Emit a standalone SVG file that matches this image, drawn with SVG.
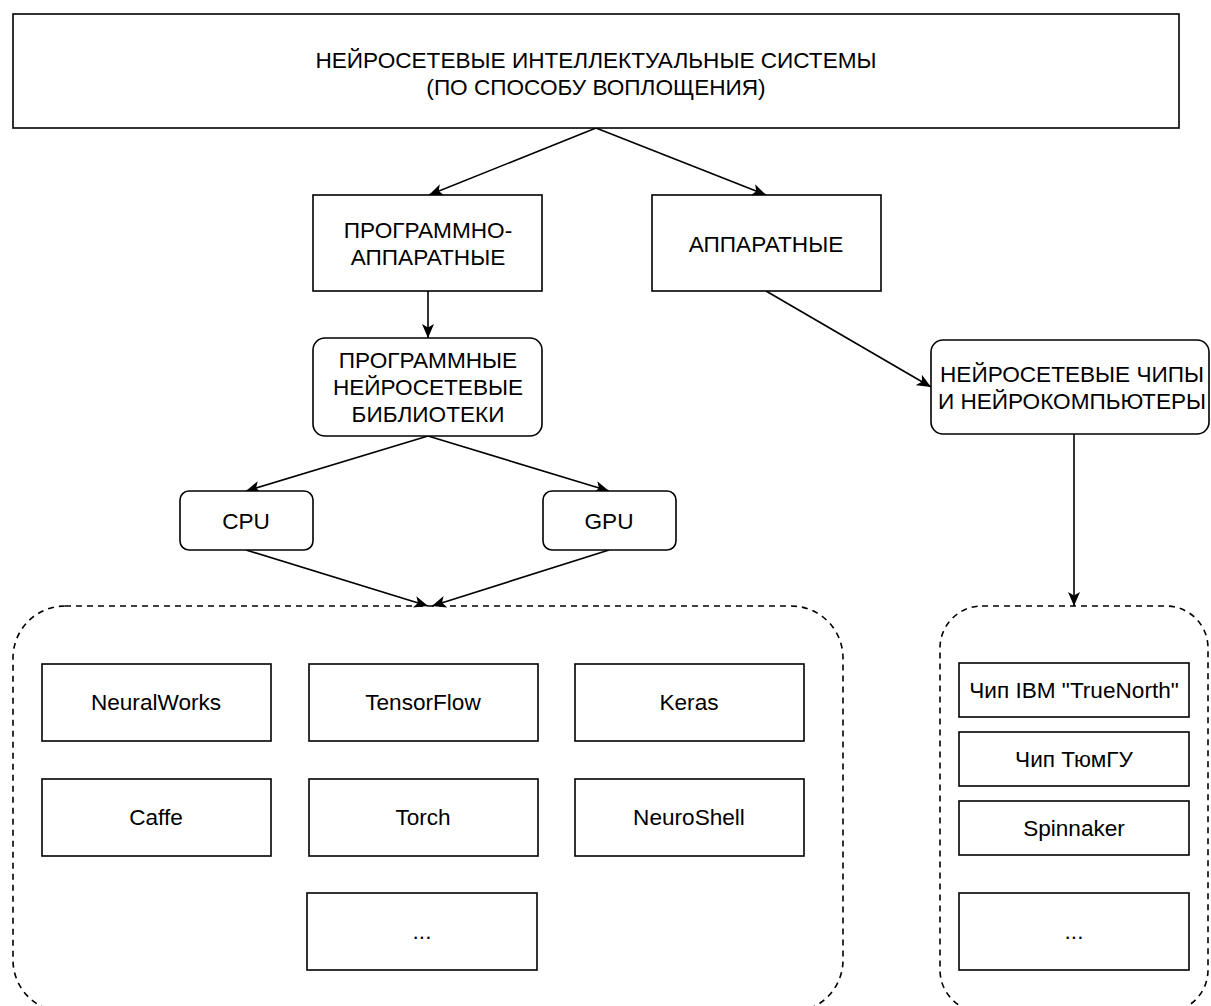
<svg xmlns="http://www.w3.org/2000/svg" width="1211" height="1006" viewBox="0 0 1211 1006">
<defs>
<marker id="arr" markerUnits="userSpaceOnUse" markerWidth="17" markerHeight="13" refX="14" refY="6" orient="auto">
<path d="M0,0 L14,6 L0,12 L3.5,6 Z" fill="#000"/>
</marker>
</defs>
<style>
.box{fill:#fff;stroke:#000;stroke-width:1.6}
.dash{fill:none;stroke:#000;stroke-width:1.6;stroke-dasharray:6 5}
.t{font-family:"Liberation Sans",Arial,sans-serif;font-size:22.6px;fill:#000;text-anchor:middle}
.c{fill:none;stroke:#000;stroke-width:1.6;marker-end:url(#arr)}
</style>
<rect width="1211" height="1006" fill="#fff"/>

<g id="connectors">
<line class="c" x1="596" y1="128" x2="429" y2="195"/>
<line class="c" x1="596" y1="128" x2="766" y2="195"/>
<line class="c" x1="428" y1="291" x2="428" y2="338"/>
<line class="c" x1="766" y1="291" x2="931" y2="387"/>
<line class="c" x1="428" y1="436" x2="246" y2="491"/>
<line class="c" x1="428" y1="436" x2="609" y2="491"/>
<line class="c" x1="246" y1="550" x2="428" y2="606"/>
<line class="c" x1="609" y1="550" x2="432" y2="606"/>
<line class="c" x1="1074" y1="434" x2="1074" y2="606"/>
</g>

<g id="root">
<rect class="box" x="13" y="14" width="1166" height="114"/>
<text class="t" x="596" y="68">НЕЙРОСЕТЕВЫЕ ИНТЕЛЛЕКТУАЛЬНЫЕ СИСТЕМЫ</text>
<text class="t" x="596" y="95">(ПО СПОСОБУ ВОПЛОЩЕНИЯ)</text>
</g>

<g id="sw-hw">
<rect class="box" x="313" y="195" width="229" height="96"/>
<text class="t" x="428" y="238">ПРОГРАММНО-</text>
<text class="t" x="428" y="265">АППАРАТНЫЕ</text>
</g>

<g id="hw">
<rect class="box" x="652" y="195" width="229" height="96"/>
<text class="t" x="766" y="252">АППАРАТНЫЕ</text>
</g>

<g id="libs">
<rect class="box" x="313" y="338" width="229" height="98" rx="12"/>
<text class="t" x="428" y="368">ПРОГРАММНЫЕ</text>
<text class="t" x="428" y="395">НЕЙРОСЕТЕВЫЕ</text>
<text class="t" x="428" y="422">БИБЛИОТЕКИ</text>
</g>

<g id="chips">
<rect class="box" x="931" y="340" width="278" height="94" rx="12"/>
<text class="t" x="1072" y="382">НЕЙРОСЕТЕВЫЕ ЧИПЫ</text>
<text class="t" x="1072" y="409">И НЕЙРОКОМПЬЮТЕРЫ</text>
</g>

<g id="cpu">
<rect class="box" x="180" y="491" width="133" height="59" rx="9"/>
<text class="t" x="246" y="529">CPU</text>
</g>

<g id="gpu">
<rect class="box" x="543" y="491" width="133" height="59" rx="9"/>
<text class="t" x="609" y="529">GPU</text>
</g>

<g id="lib-group">
<rect class="dash" x="13" y="606" width="830" height="406" rx="52"/>
</g>

<g id="neuralworks"><rect class="box" x="42" y="664" width="229" height="77"/><text class="t" x="156" y="710">NeuralWorks</text></g>
<g id="tensorflow"><rect class="box" x="309" y="664" width="229" height="77"/><text class="t" x="423" y="710">TensorFlow</text></g>
<g id="keras"><rect class="box" x="575" y="664" width="229" height="77"/><text class="t" x="689" y="710">Keras</text></g>
<g id="caffe"><rect class="box" x="42" y="779" width="229" height="77"/><text class="t" x="156" y="825">Caffe</text></g>
<g id="torch"><rect class="box" x="309" y="779" width="229" height="77"/><text class="t" x="423" y="825">Torch</text></g>
<g id="neuroshell"><rect class="box" x="575" y="779" width="229" height="77"/><text class="t" x="689" y="825">NeuroShell</text></g>
<g id="lib-more"><rect class="box" x="307" y="893" width="230" height="77"/><text class="t" x="422" y="939">...</text></g>

<g id="chip-group">
<rect class="dash" x="940" y="606" width="268" height="406" rx="42"/>
</g>

<g id="truenorth"><rect class="box" x="959" y="663" width="230" height="54"/><text class="t" x="1074" y="698">Чип IBM "TrueNorth"</text></g>
<g id="tyumgu"><rect class="box" x="959" y="732" width="230" height="54"/><text class="t" x="1074" y="767">Чип ТюмГУ</text></g>
<g id="spinnaker"><rect class="box" x="959" y="801" width="230" height="54"/><text class="t" x="1074" y="836">Spinnaker</text></g>
<g id="chip-more"><rect class="box" x="959" y="893" width="230" height="77"/><text class="t" x="1074" y="939">...</text></g>
</svg>
